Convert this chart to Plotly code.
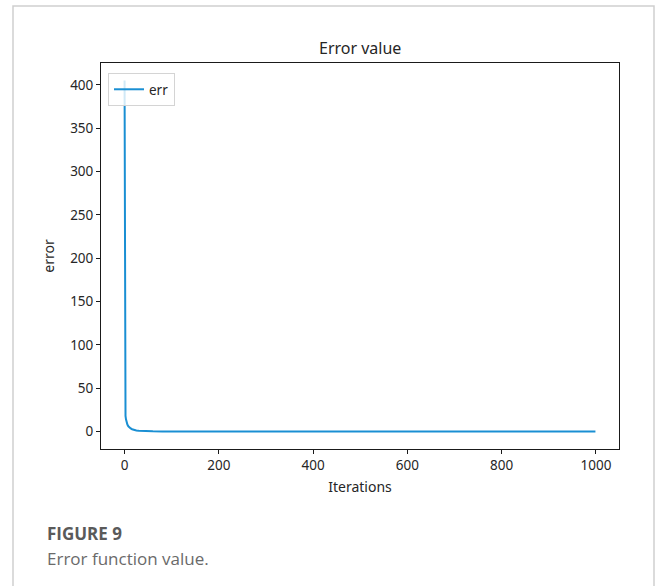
import plotly.graph_objects as go

# Error per training iteration (sampled along the curve)
iterations = [0, 1, 2, 3, 4, 5, 6, 8, 10, 13, 16, 20, 25, 30, 40, 50, 60, 80,
              100, 200, 300, 400, 500, 600, 700, 800, 900, 999]
err = [405, 25, 18, 14, 11.5, 9.5, 8, 6, 4.8, 3.5, 2.6, 1.8, 1.2, 0.8, 0.4,
       0.2, 0.1, 0.05, 0.02, 0.01, 0.0, 0.0, 0.0, 0.0, 0.0, 0.0, 0.0, 0.0]

x_ticks = [0, 200, 400, 600, 800, 1000]
y_ticks = [0, 50, 100, 150, 200, 250, 300, 350, 400]

W, H = 656, 586
L, R, T, B = 101, 619, 63, 449  # plot area in pixels

def px(xp):
    return (xp - L) / (R - L)

def py(yp):
    return (B - yp) / (B - T)

FONT = "Noto Sans"
TXT = "#262626"

fig = go.Figure()
fig.add_trace(go.Scatter(
    x=iterations, y=err, mode="lines", name="err",
    line=dict(color="#1a8fd3", width=2),
))

axis_common = dict(
    showline=True, mirror=True, linecolor="#1a1a1a", linewidth=1,
    ticks="outside", ticklen=4, tickcolor="#1a1a1a", tickwidth=1,
    showgrid=False, zeroline=False,
    tickfont=dict(family=FONT, size=13.5, color=TXT),
)

fig.update_layout(
    width=W, height=H,
    margin=dict(l=L, r=W - R, t=T, b=H - B),
    paper_bgcolor="white", plot_bgcolor="white",
    showlegend=True,
    legend=dict(
        x=px(108), y=py(73), xanchor="left", yanchor="top",
        bgcolor="rgba(255,255,255,0.8)", bordercolor="#d4d4d4", borderwidth=1,
        font=dict(family=FONT, size=13.5, color=TXT),
        itemwidth=30, tracegroupgap=0,
    ),
    xaxis=dict(range=[-50, 1049], tickvals=x_ticks,
               title=dict(text="Iterations", standoff=8,
                          font=dict(family=FONT, size=14, color=TXT)),
               **axis_common),
    yaxis=dict(range=[-20.25, 425.25], tickvals=y_ticks,
               title=dict(text="error", standoff=12,
                          font=dict(family=FONT, size=14, color=TXT)),
               **axis_common),
)

# Title above the axes
fig.add_annotation(
    text="Error value", x=0.5, y=py(48), xref="paper", yref="paper",
    showarrow=False, xanchor="center", yanchor="middle",
    font=dict(family=FONT, size=16, color=TXT),
)

# Outer frame (open at the bottom)
fig.add_shape(
    type="path", xref="paper", yref="paper",
    path=f"M {px(13)},{py(600)} L {px(13)},{py(6)} L {px(654)},{py(6)} L {px(654)},{py(600)}",
    line=dict(color="#cfcfcf", width=1.5),
)

# Caption
fig.add_annotation(
    text="<b>FIGURE 9</b>", x=px(45), y=py(533), xref="paper", yref="paper",
    showarrow=False, xanchor="left", yanchor="middle",
    font=dict(family="Open Sans", size=17, color="#5a5a5a"),
)
fig.add_annotation(
    text="Error function value.", x=px(45), y=py(558), xref="paper", yref="paper",
    showarrow=False, xanchor="left", yanchor="middle",
    font=dict(family="Open Sans", size=17, color="#6a6a6a"),
)

fig.write_html("out.html")
